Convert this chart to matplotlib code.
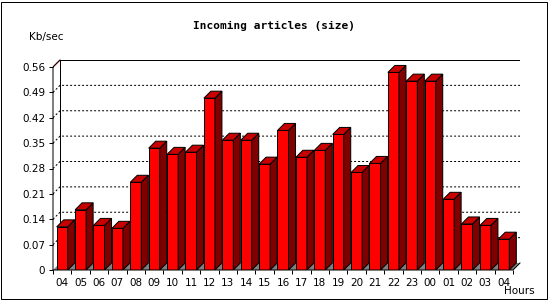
import matplotlib
matplotlib.use("Agg")
import matplotlib.pyplot as plt
from matplotlib.patches import Polygon, Rectangle

hours = ["04", "05", "06", "07", "08", "09", "10", "11", "12", "13", "14", "15", "16",
         "17", "18", "19", "20", "21", "22", "23", "00", "01", "02", "03", "04"]
kb_sec = [0.119, 0.166, 0.123, 0.115, 0.242, 0.336, 0.319, 0.325, 0.474, 0.358, 0.358, 0.292, 0.385,
          0.311, 0.330, 0.374, 0.269, 0.294, 0.545, 0.521, 0.521, 0.195, 0.127, 0.123, 0.085]
yticks = [0, 0.07, 0.14, 0.21, 0.28, 0.35, 0.42, 0.49, 0.56]

W, H = 550, 300
PX = 1 / 100 * 72  # one pixel in points

fig = plt.figure(figsize=(5.5, 3), dpi=100)
fig.patch.set_facecolor("white")
fig.patches.append(Rectangle((0.5 / W, 1.5 / H), 546 / W, 297 / H, transform=fig.transFigure,
                             fill=False, edgecolor="black", linewidth=PX))

ax = fig.add_axes([53 / W, 30 / H, (520 - 53) / W, (270 - 60) / H])
ax.set_facecolor("none")
for s in ax.spines.values():
    s.set_visible(False)

n = len(kb_sec)
dx = 7 / 18.4          # depth in data x units
dy = 7 / 362.5         # depth in data y units
xmin, xmax = -0.5, n - 0.5 + dx
ymax = yticks[-1]
ax.set_xlim(xmin, xmax)
ax.set_ylim(0, ymax + dy)

# floor
ax.add_patch(Polygon([(xmin, 0), (n - 0.5, 0), (xmax, dy), (xmin + dx, dy)],
                     closed=True, facecolor="#808080", edgecolor="none", zorder=1))

# grid on back wall + left wall diagonals
for v in yticks[1:-1]:
    ax.plot([xmin, xmin + dx, xmax], [v, v + dy, v + dy], color="black",
            linewidth=PX, linestyle=(0, (2, 2)), zorder=1)
ax.plot([xmin, xmin + dx, xmax], [ymax, ymax + dy, ymax + dy], color="red",
        linewidth=PX, zorder=1.5)

# frame
ax.plot([xmin + dx, xmin + dx, xmax, xmax], [dy, ymax + dy, ymax + dy, dy],
        color="black", linewidth=PX, zorder=1.5)
ax.plot([xmin, xmin, xmin + dx], [0, ymax, ymax + dy], color="black",
        linewidth=PX, zorder=5, clip_on=False)
ax.plot([xmin, n - 0.5, xmax], [0, 0, dy], color="black", linewidth=PX, zorder=5,
        clip_on=False)

# 3D bars
w = 0.6
xs = list(range(n))
ax.bar(xs, kb_sec, width=w, color="#ff0000", edgecolor="black", linewidth=PX, zorder=3)
for x, v in zip(xs, kb_sec):
    r = x + w / 2
    l = x - w / 2
    ax.add_patch(Polygon([(r, 0), (r + dx, dy), (r + dx, v + dy), (r, v)], closed=True,
                         facecolor="#800000", edgecolor="black", linewidth=PX, zorder=3))
    ax.add_patch(Polygon([(l, v), (r, v), (r + dx, v + dy), (l + dx, v + dy)], closed=True,
                         facecolor="#c80000", edgecolor="black", linewidth=PX, zorder=3))

# ticks
ax.set_yticks(yticks)
ax.set_yticklabels(["0" if t == 0 else f"{t:.2f}" for t in yticks])
ax.set_xticks(xs)
ax.set_xticklabels(hours)
ax.set_xticks([i - 0.5 for i in range(n + 1)], minor=True)
ax.tick_params(axis="y", length=2.6, width=PX, pad=3, labelsize=7.5, direction="out")
ax.tick_params(axis="x", which="major", length=0, pad=5.5, labelsize=7.5)
ax.tick_params(axis="x", which="minor", length=2.6, width=PX, direction="out")

fig.text(274 / W, 1 - 26 / H, "Incoming articles (size)", ha="center", va="center",
         family="DejaVu Sans Mono", fontweight="bold", fontsize=8)
fig.text(46 / W, 1 - 37 / H, "Kb/sec", ha="center", va="center", fontsize=7.5)
fig.text(519 / W, 1 - 291 / H, "Hours", ha="center", va="center", fontsize=7.5)

fig.savefig("out.png", dpi=100)
